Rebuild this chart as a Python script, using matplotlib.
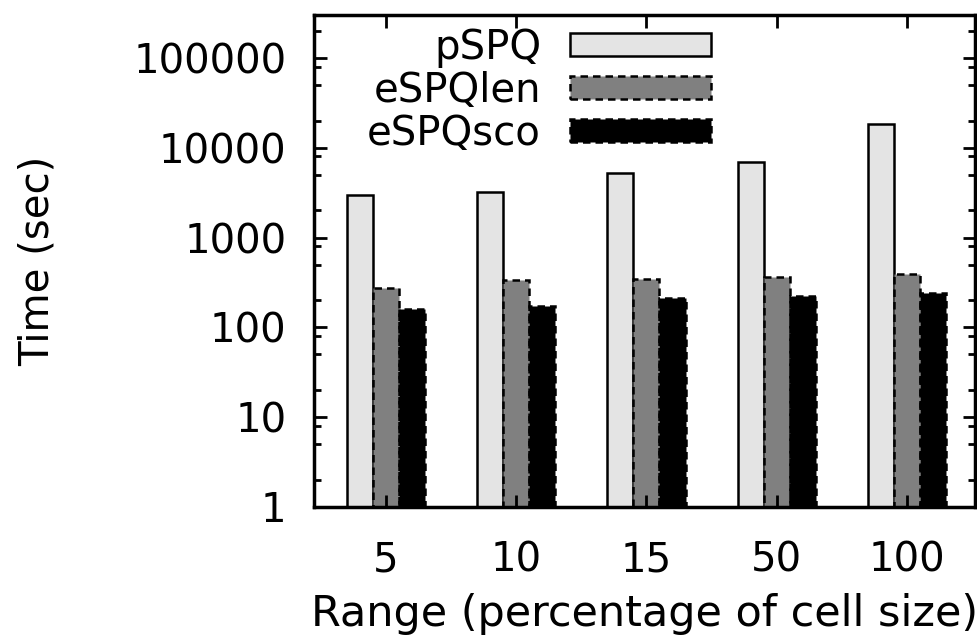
import matplotlib
matplotlib.use("Agg")
import matplotlib.pyplot as plt
import numpy as np
from matplotlib.ticker import FixedLocator, NullFormatter

# data
categories = ["5", "10", "15", "50", "100"]
series = ["pSPQ", "eSPQlen", "eSPQsco"]
pspq = [2950, 3200, 5200, 6900, 18500]
espq_len = [270, 335, 340, 360, 395]
espq_sco = [158, 170, 210, 220, 243]
ytick_vals = [1, 10, 100, 1000, 10000, 100000]
ytick_labels = ["1", "10", "100", "1000", "10000", "100000"]

values = [pspq, espq_len, espq_sco]
fills = ["#e4e4e4", "#808080", "#000000"]
styles = ["solid", (0, (3, 2)), (0, (3, 2))]

plt.rcParams["font.family"] = ["DejaVu Sans"]

fig = plt.figure(figsize=(9.78, 6.41), dpi=100)
ax = fig.add_axes([314 / 978, 134 / 641, (975 - 314) / 978, (507 - 15) / 641])

x = np.arange(len(categories))
w = 0.2
for i, (name, vals) in enumerate(zip(series, values)):
    ax.bar(x + (i - 1) * w, vals, width=w, bottom=1, color=fills[i],
           edgecolor="black", linewidth=1.8, linestyle=styles[i], label=name)

ax.set_yscale("log")
ax.set_ylim(1, 3e5)
ax.set_xlim(-0.55, 4.52)

ax.yaxis.set_major_locator(FixedLocator(ytick_vals))
ax.set_yticklabels(ytick_labels)
minors = [m * 10 ** d for d in range(0, 6) for m in (2, 5, 8) if m * 10 ** d < 3e5]
ax.yaxis.set_minor_locator(FixedLocator(minors))
ax.yaxis.set_minor_formatter(NullFormatter())

ax.set_xticks(x)
ax.set_xticklabels(categories)

ax.tick_params(which="both", direction="in", top=True, right=True, width=2)
ax.tick_params(which="major", length=9)
ax.tick_params(which="minor", length=5)
ax.tick_params(axis="y", which="major", labelsize=29, pad=20)
ax.tick_params(axis="x", which="major", labelsize=29, pad=24)
ax.tick_params(axis="x", which="minor", bottom=False, top=False)

for s in ax.spines.values():
    s.set_linewidth(2.5)

ax.set_ylabel("Time (sec)", fontsize=29, labelpad=54)
ax.set_xlabel("Range (percentage of cell size)", fontsize=31, labelpad=9)

leg = ax.legend(loc="upper left", bbox_to_anchor=(0.05, 1.015), frameon=False,
                fontsize=29, markerfirst=False, handlelength=3.5,
                handleheight=0.5, handletextpad=0.72, labelspacing=0.08,
                borderpad=0.0)
for t in leg.get_texts():
    t.set_ha("right")

fig.savefig("out.png", dpi=100)
